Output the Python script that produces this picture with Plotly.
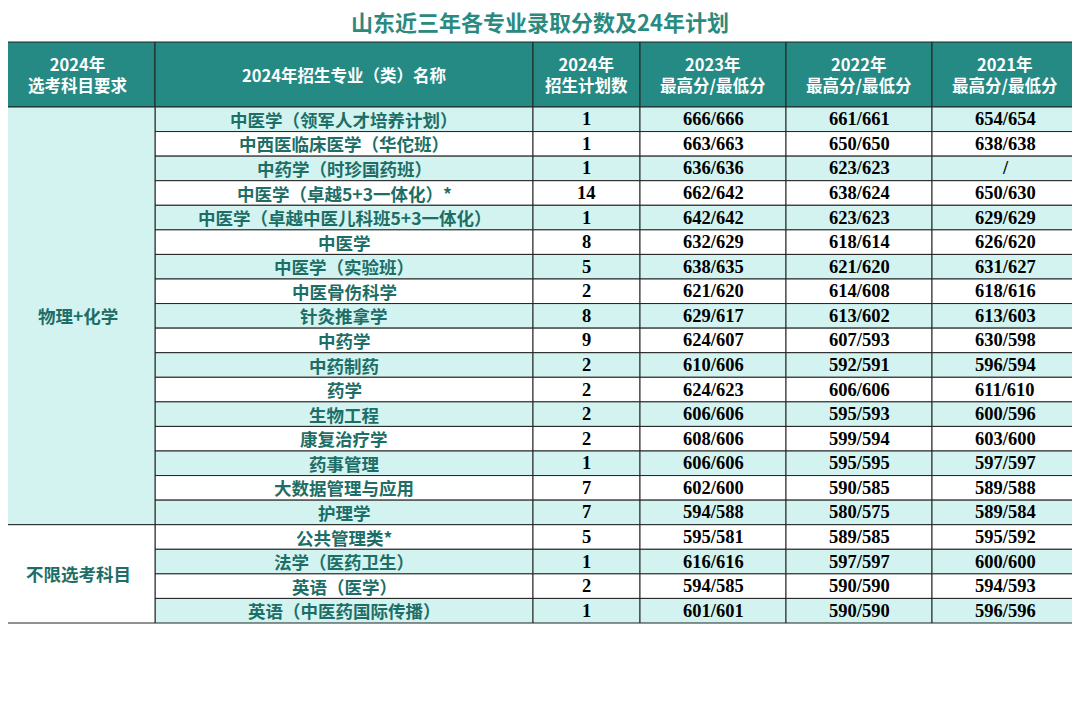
import plotly.graph_objects as go

# data
majors = [
    "中医学（领军人才培养计划）", "中西医临床医学（华佗班）", "中药学（时珍国药班）",
    "中医学（卓越5+3一体化）*", "中医学（卓越中医儿科班5+3一体化）", "中医学", "中医学（实验班）",
    "中医骨伤科学", "针灸推拿学", "中药学", "中药制药", "药学", "生物工程", "康复治疗学",
    "药事管理", "大数据管理与应用", "护理学",
    "公共管理类*", "法学（医药卫生）", "英语（医学）", "英语（中医药国际传播）",
]
plan_2024 = [1, 1, 1, 14, 1, 8, 5, 2, 8, 9, 2, 2, 2, 2, 1, 7, 7, 5, 1, 2, 1]
score_2023 = ["666/666", "663/663", "636/636", "662/642", "642/642", "632/629", "638/635",
              "621/620", "629/617", "624/607", "610/606", "624/623", "606/606", "608/606",
              "606/606", "602/600", "594/588", "595/581", "616/616", "594/585", "601/601"]
score_2022 = ["661/661", "650/650", "623/623", "638/624", "623/623", "618/614", "621/620",
              "614/608", "613/602", "607/593", "592/591", "606/606", "595/593", "599/594",
              "595/595", "590/585", "580/575", "589/585", "597/597", "590/590", "590/590"]
score_2021 = ["654/654", "638/638", "/", "650/630", "629/629", "626/620", "631/627",
              "618/616", "613/603", "630/598", "596/594", "611/610", "600/596", "603/600",
              "597/597", "589/588", "589/584", "595/592", "600/600", "594/593", "596/596"]
groups = ["物理+化学", "不限选考科目"]
group_sizes = [17, 4]
headers = ["2024年<br>选考科目要求", "2024年招生专业（类）名称", "2024年<br>招生计划数",
           "2023年<br>最高分/最低分", "2022年<br>最高分/最低分", "2021年<br>最高分/最低分"]
title = "山东近三年各专业录取分数及24年计划"
notes = [
    "*中医学（卓越5+3一体化）即五年本科+三年研究生（含中医住院医师规范化培训）。入学后双向选择，可分为中医学、中西医结合、",
    "针灸推拿骨伤等类别，具体以正式通知为准。",
    "*公共管理类包含公共事业管理和工商管理。",
]

# layout geometry
col_x = [1, 155, 533, 640, 786, 932, 1078]
head_top, head_bot = 42, 107
row_h = (623 - head_bot) / len(majors)
TEAL = "#258a84"
CYAN = "#d3f3f1"
TXT = "#1d6e66"
CJK = "Noto Sans CJK SC"
SERIF = "Liberation Serif"

shapes, ann = [], []


def rect(x0, y0, x1, y1, fill, lw=1, lc="#222"):
    shapes.append(dict(type="rect", x0=x0, x1=x1, y0=y0, y1=y1, fillcolor=fill,
                       line=dict(width=lw, color=lc), layer="below"))


def text(x, y, s, size, color, family, **kw):
    ann.append(dict(x=x, y=y, text=s, showarrow=False, font=dict(size=size, color=color, family=family), **kw))


# header
for i, h in enumerate(headers):
    rect(col_x[i], head_top, col_x[i + 1], head_bot, TEAL)
    text((col_x[i] + col_x[i + 1]) / 2, (head_top + head_bot) / 2, "<b>" + h + "</b>", 16.5, "white", CJK)

# body rows
for r, m in enumerate(majors):
    y0 = head_bot + r * row_h
    y1 = y0 + row_h
    yc = (y0 + y1) / 2
    fill = CYAN if r % 2 == 0 else "white"
    for c in range(1, 6):
        rect(col_x[c], y0, col_x[c + 1], y1, fill)
    text((col_x[1] + col_x[2]) / 2, yc, "<b>" + m + "</b>", 17.5, TXT, CJK)
    vals = [plan_2024[r], score_2023[r], score_2022[r], score_2021[r]]
    for c, v in enumerate(vals):
        text((col_x[c + 2] + col_x[c + 3]) / 2, yc, "<b>" + str(v) + "</b>", 18.5, "black", SERIF)

# merged group cells
start = 0
for g, n in zip(groups, group_sizes):
    y0 = head_bot + start * row_h
    y1 = y0 + n * row_h
    rect(col_x[0], y0, col_x[1], y1, CYAN if start == 0 else "white")
    text((col_x[0] + col_x[1]) / 2, (y0 + y1) / 2, "<b>" + g + "</b>", 17.5, TXT, CJK)
    start += n

# title and notes
text(540, 21, "<b>" + title + "</b>", 22, "#2a8a80", CJK)
for i, n in enumerate(notes):
    text(4, 648 + i * 25, n, 15, "#333", CJK, xanchor="left")

fig = go.Figure()
fig.update_layout(
    width=1080, height=724, margin=dict(l=0, r=0, t=0, b=0),
    paper_bgcolor="white", plot_bgcolor="white",
    # offset by the page margin so axis units line up with window pixels
    xaxis=dict(range=[8, 1088], visible=False, fixedrange=True),
    yaxis=dict(range=[732, 8], visible=False, fixedrange=True),
    shapes=shapes, annotations=ann, showlegend=False,
)
fig.write_html("out.html")
